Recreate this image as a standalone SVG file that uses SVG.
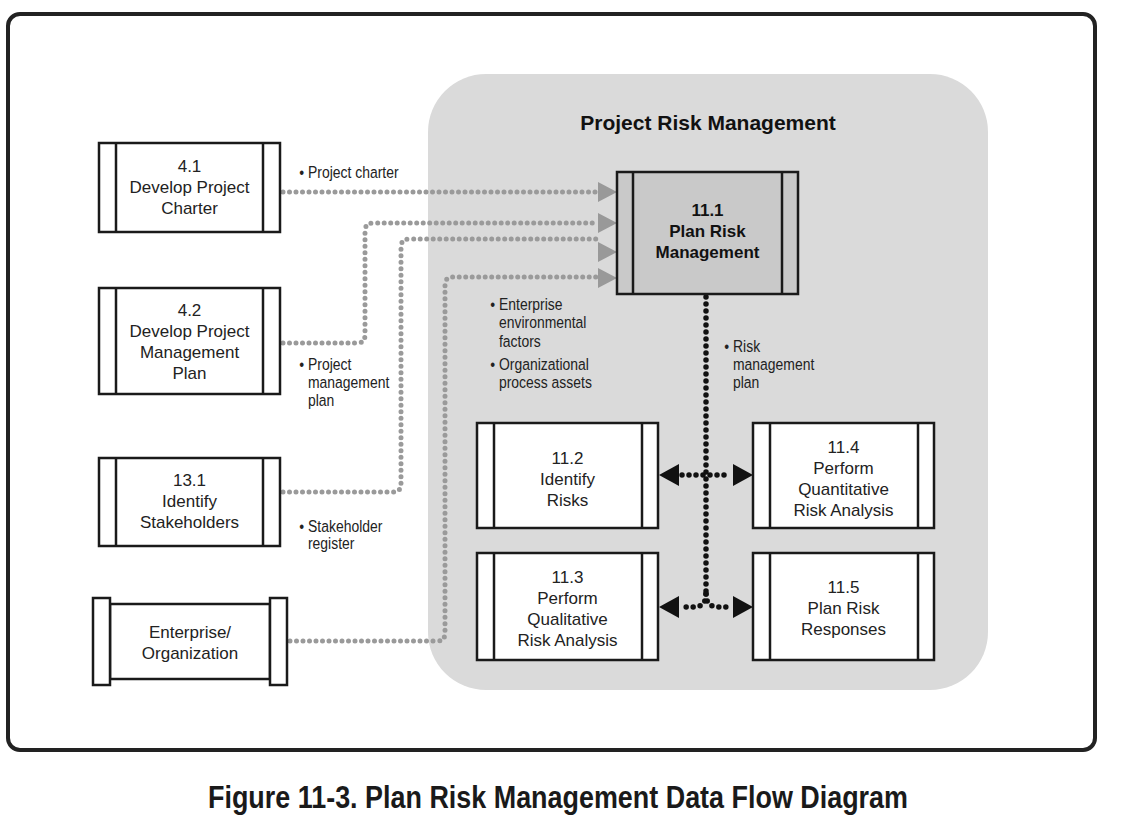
<svg xmlns="http://www.w3.org/2000/svg" width="1127" height="821" viewBox="0 0 1127 821">
<defs>
<style>
.frame{fill:#fff;stroke:#222;stroke-width:4}
.region{fill:#dadada}
.box{fill:#fff;stroke:#1a1a1a;stroke-width:2.5}
.dark{fill:#c9c9c9;stroke:#1a1a1a;stroke-width:2.5}
.bar{stroke:#1a1a1a;stroke-width:2.5}
.nt{font-family:"Liberation Sans",Arial,sans-serif;font-size:17px;fill:#222;text-anchor:middle}
.bt{font-family:"Liberation Sans",Arial,sans-serif;font-size:17px;font-weight:bold;fill:#111;text-anchor:middle}
.lb{font-family:"Liberation Sans",Arial,sans-serif;font-size:17px;fill:#222}
.gd{fill:none;stroke:#9a9a9a;stroke-width:5;stroke-linecap:round;stroke-dasharray:0 6.5}
.kd{fill:none;stroke:#111;stroke-width:5.5;stroke-linecap:round;stroke-dasharray:0 7}
.ga{fill:#999}
.ka{fill:#111}
</style>
<polygon id="garr" points="0,-10 19,0 0,10"/>
<polygon id="karr" points="0,-11 20,0 0,11"/>
</defs>
<rect width="1127" height="821" fill="#fff"/>
<rect class="frame" x="8" y="14" width="1087" height="736" rx="12"/>
<rect class="region" x="428" y="74" width="560" height="616" rx="58"/>
<text x="708" y="130" font-family="Liberation Sans,Arial,sans-serif" font-size="21" font-weight="bold" fill="#111" text-anchor="middle">Project Risk Management</text>

<g id="connectors">
<path class="gd" d="M283 192 L596 192"/>
<path class="gd" d="M283 343 L357 343 Q365 343 365 335 L365 231 Q365 223 373 223 L596 223"/>
<path class="gd" d="M283 492 L393 492 Q401 492 401 484 L401 247 Q401 239 409 239 L597 239"/>
<path class="gd" d="M290 641 L437 641 Q445 641 445 633 L445 285 Q445 277 453 277 L596 277"/>
<use href="#garr" class="ga" x="598" y="192"/>
<use href="#garr" class="ga" x="598" y="223"/>
<use href="#garr" class="ga" x="598" y="252"/>
<use href="#garr" class="ga" x="598" y="278"/>
<path class="kd" d="M706 297 L706 594"/>
<path class="kd" d="M682 475 L731 475"/>
<path class="kd" d="M706 594 Q706 607 694 607 L682 607"/>
<path class="kd" d="M706 594 Q706 607 718 607 L731 607"/>
<use href="#karr" class="ka" transform="translate(679 475) scale(-1 1)"/>
<use href="#karr" class="ka" x="733" y="475"/>
<use href="#karr" class="ka" transform="translate(679 607) scale(-1 1)"/>
<use href="#karr" class="ka" x="733" y="607"/>
</g>

<g id="labels" transform="scale(0.82 1)">
<text class="lb" x="365" y="178">• Project charter</text>
<text class="lb" x="365" y="370">• Project</text>
<text class="lb" x="375.6" y="388">management</text>
<text class="lb" x="375.6" y="406">plan</text>
<text class="lb" x="365" y="532">• Stakeholder</text>
<text class="lb" x="375.6" y="549">register</text>
<text class="lb" x="597.9" y="310">• Enterprise</text>
<text class="lb" x="608.5" y="328">environmental</text>
<text class="lb" x="608.5" y="347">factors</text>
<text class="lb" x="597.9" y="370">• Organizational</text>
<text class="lb" x="608.5" y="388">process assets</text>
<text class="lb" x="883.3" y="352">• Risk</text>
<text class="lb" x="893.9" y="370">management</text>
<text class="lb" x="893.9" y="388">plan</text>
</g>

<g id="n41">
<rect class="box" x="99" y="143" width="181" height="89"/>
<line class="bar" x1="116" y1="143" x2="116" y2="232"/>
<line class="bar" x1="263" y1="143" x2="263" y2="232"/>
<text class="nt" x="189.5" y="172">4.1</text>
<text class="nt" x="189.5" y="193">Develop Project</text>
<text class="nt" x="189.5" y="214">Charter</text>
</g>
<g id="n42">
<rect class="box" x="99" y="288" width="181" height="106"/>
<line class="bar" x1="116" y1="288" x2="116" y2="394"/>
<line class="bar" x1="263" y1="288" x2="263" y2="394"/>
<text class="nt" x="189.5" y="316">4.2</text>
<text class="nt" x="189.5" y="337">Develop Project</text>
<text class="nt" x="189.5" y="358">Management</text>
<text class="nt" x="189.5" y="379">Plan</text>
</g>
<g id="n131">
<rect class="box" x="99" y="458" width="181" height="88"/>
<line class="bar" x1="116" y1="458" x2="116" y2="546"/>
<line class="bar" x1="263" y1="458" x2="263" y2="546"/>
<text class="nt" x="189.5" y="486">13.1</text>
<text class="nt" x="189.5" y="507">Identify</text>
<text class="nt" x="189.5" y="528">Stakeholders</text>
</g>
<g id="nent">
<rect class="box" x="110" y="604" width="160" height="75"/>
<rect class="box" x="93" y="598" width="17" height="87"/>
<rect class="box" x="270" y="598" width="17" height="87"/>
<text class="nt" x="190" y="638">Enterprise/</text>
<text class="nt" x="190" y="659">Organization</text>
</g>
<g id="n111">
<rect class="dark" x="617" y="172" width="181" height="122"/>
<line class="bar" x1="633" y1="172" x2="633" y2="294"/>
<line class="bar" x1="782" y1="172" x2="782" y2="294"/>
<text class="bt" x="707.5" y="216">11.1</text>
<text class="bt" x="707.5" y="237">Plan Risk</text>
<text class="bt" x="707.5" y="258">Management</text>
</g>
<g id="n112">
<rect class="box" x="477" y="423" width="181" height="105"/>
<line class="bar" x1="494" y1="423" x2="494" y2="528"/>
<line class="bar" x1="642" y1="423" x2="642" y2="528"/>
<text class="nt" x="567.5" y="464">11.2</text>
<text class="nt" x="567.5" y="485">Identify</text>
<text class="nt" x="567.5" y="506">Risks</text>
</g>
<g id="n114">
<rect class="box" x="753" y="423" width="181" height="105"/>
<line class="bar" x1="770" y1="423" x2="770" y2="528"/>
<line class="bar" x1="918" y1="423" x2="918" y2="528"/>
<text class="nt" x="843.5" y="453">11.4</text>
<text class="nt" x="843.5" y="474">Perform</text>
<text class="nt" x="843.5" y="495">Quantitative</text>
<text class="nt" x="843.5" y="516">Risk Analysis</text>
</g>
<g id="n113">
<rect class="box" x="477" y="553" width="181" height="107"/>
<line class="bar" x1="494" y1="553" x2="494" y2="660"/>
<line class="bar" x1="642" y1="553" x2="642" y2="660"/>
<text class="nt" x="567.5" y="583">11.3</text>
<text class="nt" x="567.5" y="604">Perform</text>
<text class="nt" x="567.5" y="625">Qualitative</text>
<text class="nt" x="567.5" y="646">Risk Analysis</text>
</g>
<g id="n115">
<rect class="box" x="753" y="553" width="181" height="107"/>
<line class="bar" x1="770" y1="553" x2="770" y2="660"/>
<line class="bar" x1="918" y1="553" x2="918" y2="660"/>
<text class="nt" x="843.5" y="593">11.5</text>
<text class="nt" x="843.5" y="614">Plan Risk</text>
<text class="nt" x="843.5" y="635">Responses</text>
</g>

<text x="558" y="808" font-family="Liberation Sans Narrow,Arial Narrow,Liberation Sans,sans-serif" font-size="32" font-weight="bold" fill="#1a1a1a" text-anchor="middle" textLength="700" lengthAdjust="spacingAndGlyphs">Figure 11-3. Plan Risk Management Data Flow Diagram</text>
</svg>
